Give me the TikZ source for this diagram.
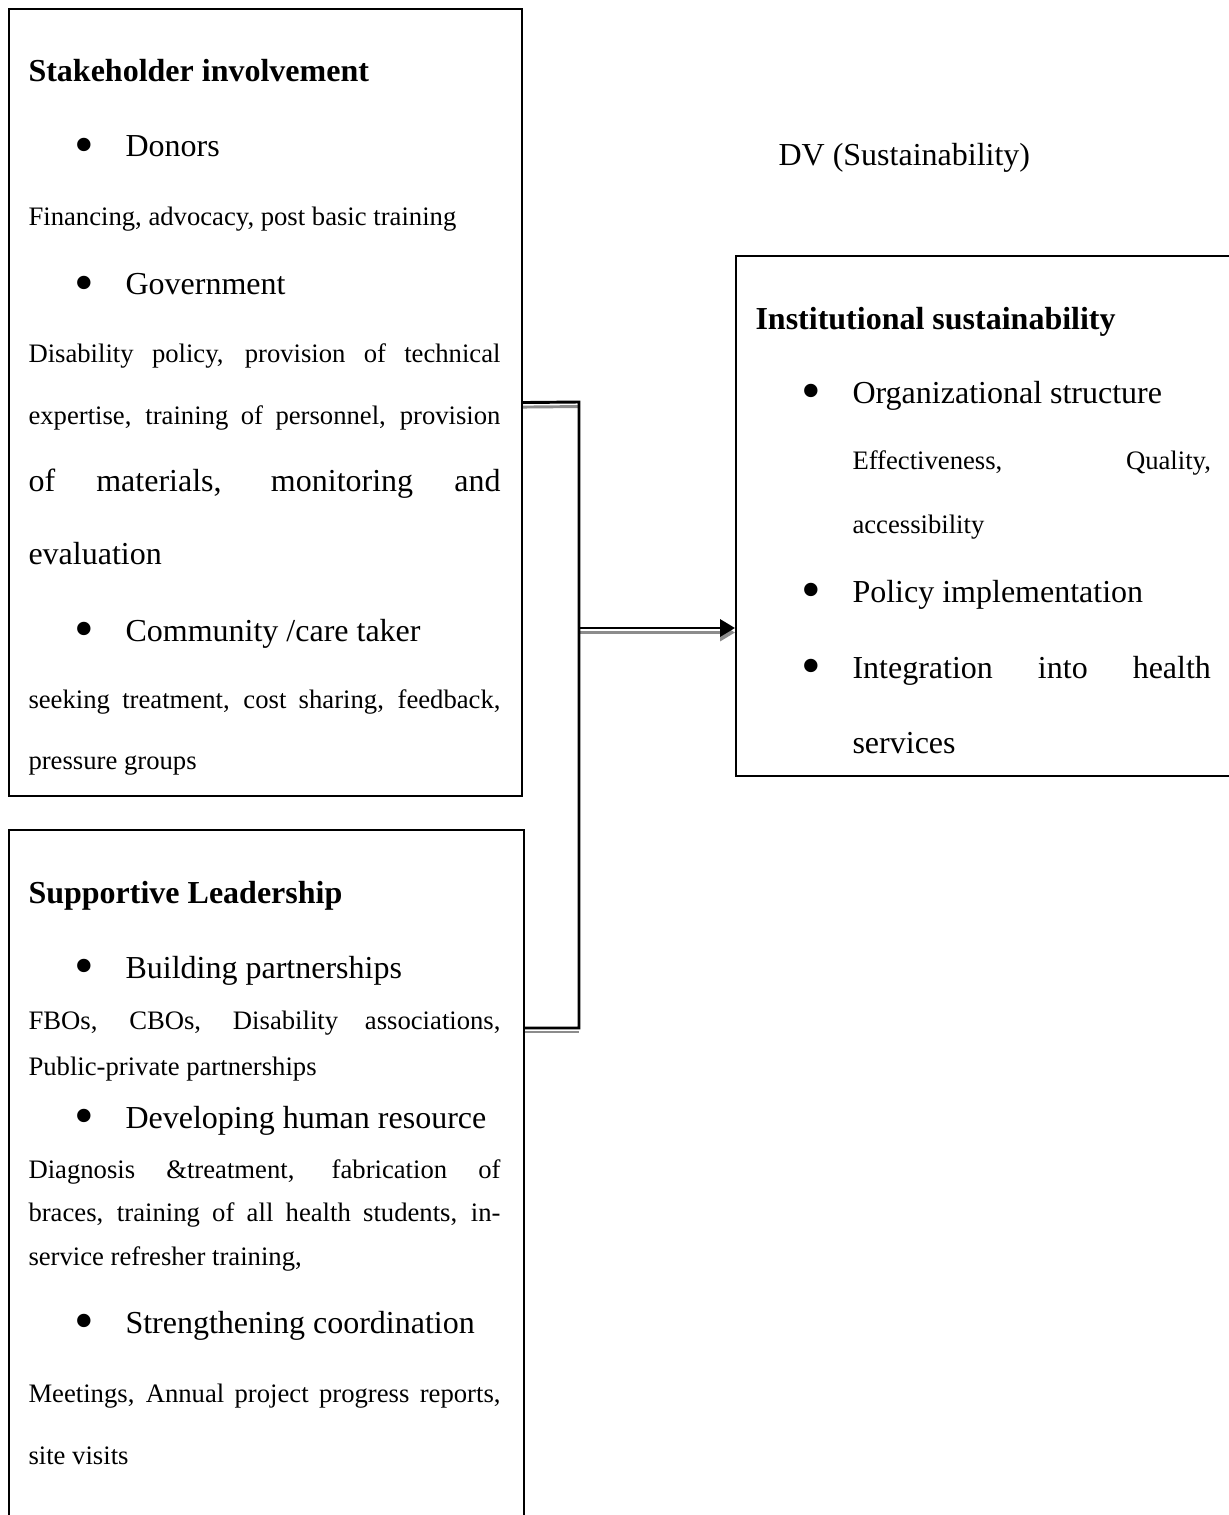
\documentclass[tikz,border=0pt]{standalone}
\usepackage{fontspec}
\setmainfont{Liberation Serif}
\usetikzlibrary{arrows.meta,positioning}

% justified lines (left boxes, right box)
\newcommand{\jl}[1]{\makebox[177pt][s]{#1}}
\newcommand{\jr}[1]{\makebox[134.4pt][s]{#1}}
\newcommand{\bul}{\raisebox{-2.6pt}{\fontsize{21}{21}\selectfont\textbullet}}

\begin{document}
\begin{tikzpicture}[
  x=0.375pt, y=-0.375pt,
  box/.style={draw, line width=0.8pt, inner sep=0pt, anchor=north west},
  big/.style={anchor=base west, inner sep=0pt, font=\fontsize{12}{14}\selectfont},
  small/.style={anchor=base west, inner sep=0pt, font=\fontsize{10}{12}\selectfont},
  head/.style={anchor=base west, inner sep=0pt, font=\fontsize{12}{14}\selectfont\bfseries},
  link/.style={line width=1.1pt},
  shade/.style={line width=1.1pt, black!45},
  arrow/.style={-{Triangle[length=5.6pt, width=6.4pt]}}
]
\clip (0,0) rectangle (1229,1515);

% boxes
\node[box, minimum width=192.4pt, minimum height=295.1pt] (stake) at (8,8) {};
\node[box, minimum width=193.1pt, minimum height=282pt] (lead) at (8,829) {};
\node[box, minimum width=191.6pt, minimum height=195pt] (inst) at (735,255) {};

% stakeholder involvement
\node[head] (sh) at (28,82) {Stakeholder involvement};
\node[big] (b1) at (74,157) {\bul};
\node[big] (donors) at (125,157) {Donors};
\node[small] (don1) at (28,226) {Financing, advocacy, post basic training};
\node[big] (b2) at (74,295) {\bul};
\node[big] (gov) at (125,295) {Government};
\node[small] (gov1) at (28,362) {\jl{Disability policy, provision of technical}};
\node[small] (gov2) at (28,424) {\jl{expertise, training of personnel, provision}};
\node[big] (gov3) at (28,491) {\jl{of materials, monitoring and}};
\node[big] (gov4) at (28,564) {evaluation};
\node[big] (b3) at (74,641) {\bul};
\node[big] (com) at (125,641) {Community /care taker};
\node[small] (com1) at (28,708) {\jl{seeking treatment, cost sharing, feedback,}};
\node[small] (com2) at (28,769) {pressure groups};

% supportive leadership
\node[head] (sl) at (28,903) {Supportive Leadership};
\node[big] (b4) at (74,978) {\bul};
\node[big] (part) at (125,978) {Building partnerships};
\node[small] (part1) at (28,1029) {\jl{FBOs, CBOs, Disability associations,}};
\node[small] (part2) at (28,1075) {Public-private partnerships};
\node[big] (b5) at (74,1128) {\bul};
\node[big] (hr) at (125,1128) {Developing human resource};
\node[small] (hr1) at (28,1178) {\jl{Diagnosis \&treatment, fabrication of}};
\node[small] (hr2) at (28,1221) {\jl{braces, training of all health students, in-}};
\node[small] (hr3) at (28,1265) {service refresher training,};
\node[big] (b6) at (74,1333) {\bul};
\node[big] (coord) at (125,1333) {Strengthening coordination};
\node[small] (coord1) at (28,1402) {\jl{Meetings, Annual project progress reports,}};
\node[small] (coord2) at (28,1464) {site visits};

% dependent variable
\node[big] (dv) at (778,166) {DV (Sustainability)};
\node[head] (is) at (755,329) {Institutional sustainability};
\node[big] (b7) at (801,403) {\bul};
\node[big] (org) at (852,403) {Organizational structure};
\node[small] (org1) at (852,469) {\jr{Effectiveness, Quality,}};
\node[small] (org2) at (852,533) {accessibility};
\node[big] (b8) at (801,602) {\bul};
\node[big] (pol) at (852,602) {Policy implementation};
\node[big] (b9) at (801,678) {\bul};
\node[big] (integ) at (852,678) {\jr{Integration into health}};
\node[big] (serv) at (852,753) {services};

% connectors
\coordinate (jtop) at (579,402);
\coordinate (jmid) at (579,628);
\coordinate (jbot) at (579,1028);
\draw[shade] ([yshift=-1.7pt]stake.east) -- ([yshift=-1.7pt]jtop);
\draw[shade] ([yshift=-1.5pt]lead.east |- jbot) -- ([yshift=-1.5pt]jbot);
\draw[shade, arrow] ([yshift=-1.7pt]jmid) -- ([yshift=-1.7pt]jmid -| inst.west);
\draw[link] (stake.east) -- (jtop) -- (jbot) -- (lead.east |- jbot);
\draw[link, arrow] (jmid) -- (jmid -| inst.west);
\end{tikzpicture}
\end{document}
